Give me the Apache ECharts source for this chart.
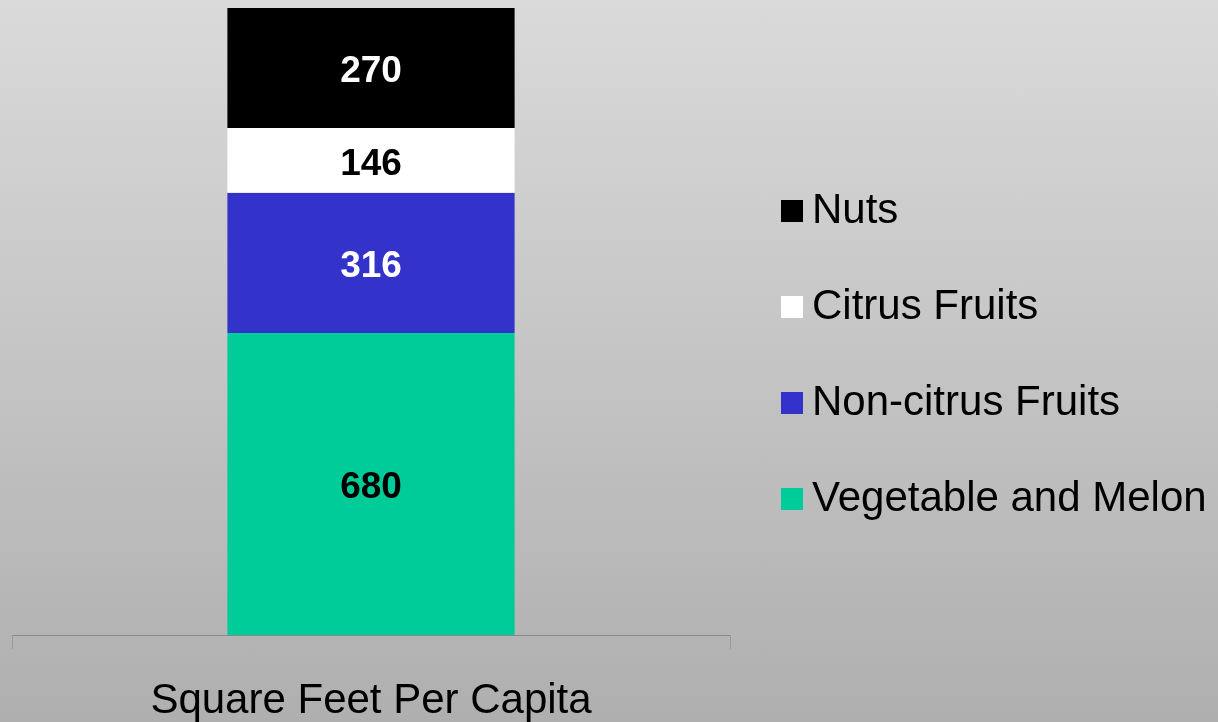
<!DOCTYPE html>
<html>
<head>
<meta charset="utf-8">
<script src="https://cdn.jsdelivr.net/npm/echarts@6/dist/echarts.min.js"></script>
<style>
    html, body { margin: 0; padding: 0; }
    #chart {
        width: 1218px;
        height: 722px;
        background: linear-gradient(to bottom, #dadada, #afafaf);
    }
</style>
</head>
<body>
<div id="chart"></div>
<script>
    // 数据
    const categories = ["Square Feet Per Capita"];
    const vegetable = [680];
    const nonCitrus = [316];
    const citrus = [146];
    const nuts = [270];
    const legendNames = ["Nuts", "Citrus Fruits", "Non-citrus Fruits", "Vegetable and Melon"];

    const chart = echarts.init(document.getElementById("chart"));
    const font = "Liberation Sans";

    function barSeries(name, data, color, labelColor) {
        return {
            name: name,
            type: "bar",
            stack: "total",
            barWidth: "40%",
            data: data,
            itemStyle: { color: color },
            label: {
                show: true,
                position: "inside",
                offset: [0, 4],
                color: labelColor,
                fontFamily: font,
                fontWeight: "bold",
                fontSize: 37
            }
        };
    }

    const option = {
        animation: false,
        grid: {
            left: 12,
            right: 488,
            top: 8,
            bottom: 86
        },
        legend: {
            orient: "vertical",
            left: 776,
            top: 185,
            itemWidth: 22,
            itemHeight: 22,
            itemGap: 54,
            icon: "rect",
            data: legendNames,
            textStyle: {
                color: "#000",
                fontFamily: font,
                fontSize: 42,
                padding: [0, 0, 0, 4]
            }
        },
        xAxis: {
            type: "category",
            data: categories,
            axisLine: { lineStyle: { color: "#888", width: 1 } },
            axisTick: { show: true, length: 14, lineStyle: { color: "#999" } },
            axisLabel: {
                color: "#000",
                fontFamily: font,
                fontSize: 42,
                margin: 45
            }
        },
        yAxis: {
            type: "value",
            min: 0,
            max: 1412,
            show: false,
            splitLine: { show: false }
        },
        series: [
            barSeries("Vegetable and Melon", vegetable, "#00cc99", "#000"),
            barSeries("Non-citrus Fruits", nonCitrus, "#3333cc", "#fff"),
            barSeries("Citrus Fruits", citrus, "#ffffff", "#000"),
            barSeries("Nuts", nuts, "#000000", "#fff")
        ]
    };
    chart.setOption(option);
</script>
</body>
</html>
